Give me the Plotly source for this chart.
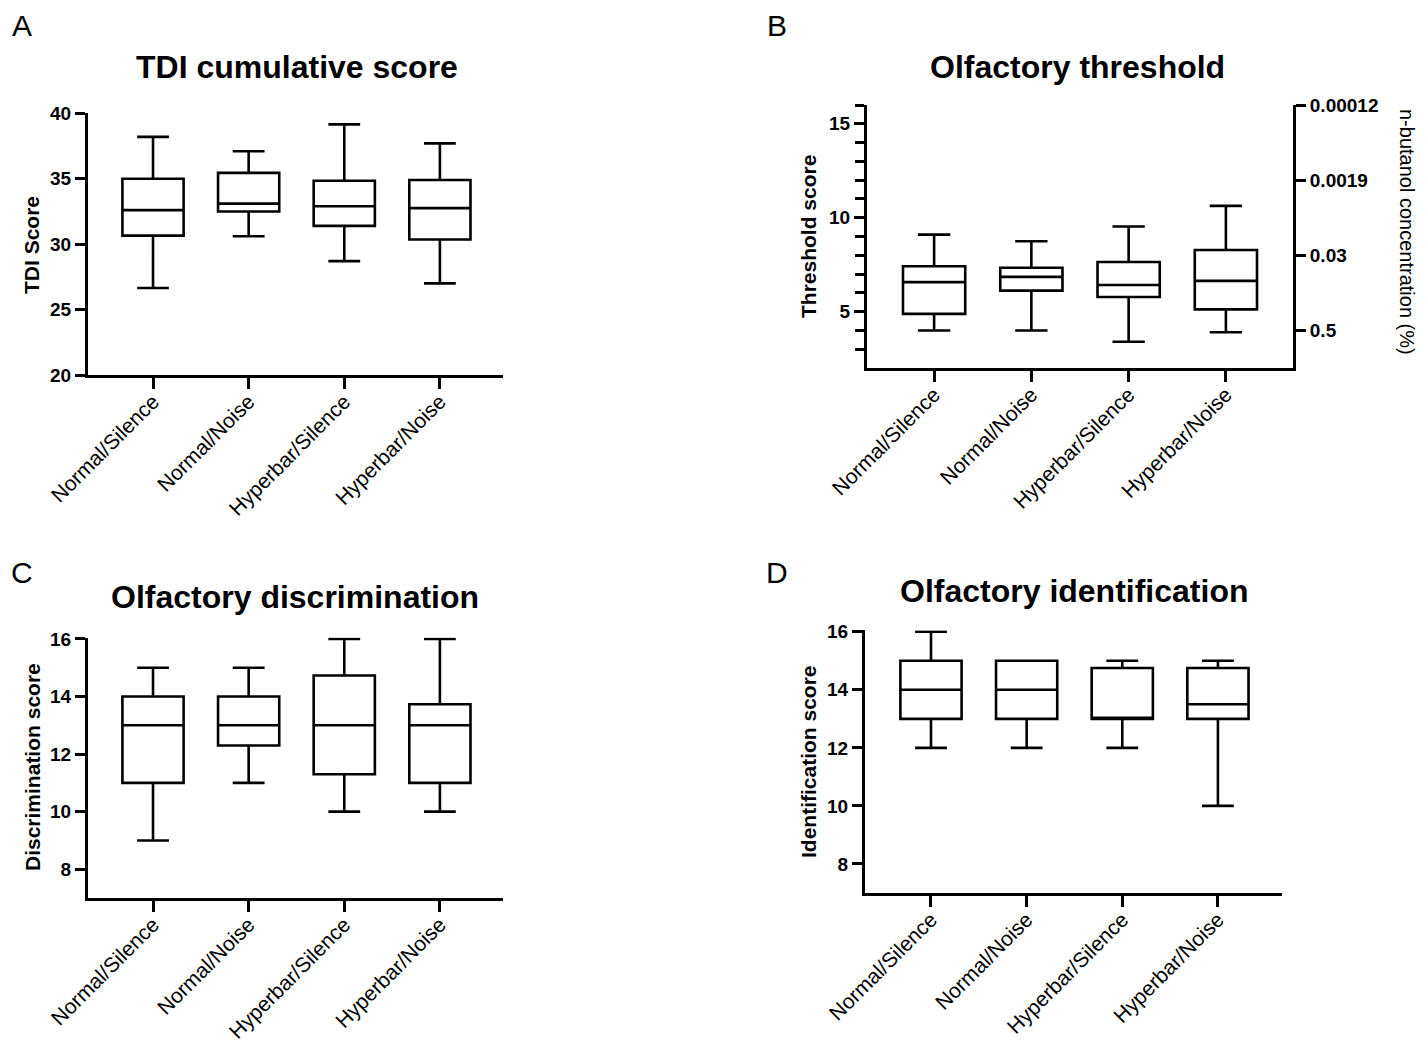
import plotly.graph_objects as go

# ---------------- data ----------------
categories = ["Normal/Silence", "Normal/Noise", "Hyperbar/Silence", "Hyperbar/Noise"]

# Panel A: TDI cumulative score
tdi_low = [26.65, 30.6, 28.7, 27.0]
tdi_q1 = [30.65, 32.5, 31.4, 30.35]
tdi_med = [32.6, 33.1, 32.9, 32.75]
tdi_q3 = [35.0, 35.45, 34.85, 34.9]
tdi_high = [38.2, 37.1, 39.15, 37.7]

# Panel B: Olfactory threshold
thr_low = [4.0, 4.0, 3.4, 3.9]
thr_q1 = [4.88, 6.12, 5.78, 5.12]
thr_med = [6.57, 6.85, 6.42, 6.64]
thr_q3 = [7.42, 7.34, 7.64, 8.28]
thr_high = [9.1, 8.75, 9.53, 10.63]
conc_tickvals = [4, 8, 12, 16]
conc_ticktext = ["0.5", "0.03", "0.0019", "0.00012"]

# Panel C: Olfactory discrimination
dis_low = [9, 11, 10, 10]
dis_q1 = [11, 12.3, 11.3, 11]
dis_med = [13, 13, 13, 13]
dis_q3 = [14, 14, 14.73, 13.73]
dis_high = [15, 15, 16, 16]

# Panel D: Olfactory identification
idn_low = [12, 12, 12, 10]
idn_q1 = [13, 13, 13, 13]
idn_med = [14, 14, 13, 13.5]
idn_q3 = [15, 15, 14.75, 14.75]
idn_high = [16, 15, 15, 15]

# ---------------- layout helpers ----------------
W, H = 1427, 1044
def fx(px):
    return px / W
def fy(py):
    return 1 - py / H

FONT = "Liberation Sans, Arial, sans-serif"
BOX_W = 0.64
WHISK = 0.52

fig = go.Figure()

def add_box(xa, ya, low, q1, med, q3, high):
    fig.add_trace(go.Box(
        x=categories, q1=q1, median=med, q3=q3,
        lowerfence=low, upperfence=high,
        orientation="v", boxpoints=False,
        fillcolor="white", line=dict(color="black", width=2.6),
        width=BOX_W, whiskerwidth=WHISK,
        xaxis=xa, yaxis=ya, showlegend=False, hoverinfo="skip",
    ))

add_box("x", "y", tdi_low, tdi_q1, tdi_med, tdi_q3, tdi_high)
add_box("x2", "y2", thr_low, thr_q1, thr_med, thr_q3, thr_high)
add_box("x3", "y3", dis_low, dis_q1, dis_med, dis_q3, dis_high)
add_box("x4", "y4", idn_low, idn_q1, idn_med, idn_q3, idn_high)

# invisible carrier so the secondary (concentration) axis of panel B is drawn
fig.add_trace(go.Scatter(
    x=categories, y=thr_med, xaxis="x2", yaxis="y5", mode="markers",
    marker=dict(opacity=0, size=1), showlegend=False, hoverinfo="skip",
))

def xaxis(domain, rng, anchor):
    return dict(
        domain=domain, range=rng, anchor=anchor, type="category",
        automargin=False,
        showline=True, linecolor="black", linewidth=3,
        ticks="outside", ticklen=11, tickwidth=3, tickcolor="black",
        tickangle=-45, showgrid=False, zeroline=False,
        ticklabelstandoff=-8,
        tickfont=dict(family=FONT, size=21, color="black"),
    )

def yaxis(domain, rng, anchor, **kw):
    d = dict(
        domain=domain, range=rng, anchor=anchor, automargin=False,
        showline=True, linecolor="black", linewidth=3,
        ticks="outside", ticklen=10, tickwidth=3, tickcolor="black",
        showgrid=False, zeroline=False,
        tickfont=dict(family=FONT, size=19, color="black", weight="bold"),
    )
    d.update(kw)
    return d

fig.update_layout(
    template="none",
    width=W, height=H, autosize=False,
    margin=dict(l=0, r=0, t=0, b=0, pad=0),
    paper_bgcolor="white", plot_bgcolor="white",
    showlegend=False,
    xaxis=xaxis([fx(88), fx(503)], [-0.68, 3.66], "y"),
    yaxis=yaxis([fy(375), fy(113.3)], [20, 40], "x", tickvals=[20, 25, 30, 35, 40]),
    xaxis2=xaxis([fx(867), fx(1293)], [-0.69, 3.69], "y2"),
    yaxis2=yaxis([fy(368), fy(105)], [2, 16], "x2", tickvals=[5, 10, 15],
                 minor=dict(tickvals=[3, 4, 6, 7, 8, 9, 11, 12, 13, 14, 16],
                            ticks="outside", ticklen=9, tickwidth=2.6, tickcolor="black")),
    yaxis5=yaxis([fy(368), fy(105)], [2, 16], "x2", overlaying="y2", side="right",
                 tickmode="array", tickvals=conc_tickvals, ticktext=conc_ticktext),
    xaxis3=xaxis([fx(88), fx(503)], [-0.68, 3.66], "y3"),
    yaxis3=yaxis([fy(898), fy(637.5)], [7, 16.05], "x3", tickvals=[8, 10, 12, 14, 16]),
    xaxis4=xaxis([fx(865), fx(1282)], [-0.69, 3.67], "y4"),
    yaxis4=yaxis([fy(893), fy(630.3)], [7, 16.05], "x4", tickvals=[8, 10, 12, 14, 16]),
)

annotations = []
def ann(text, px, py, size, bold=False, angle=0):
    annotations.append(dict(
        text=text, x=fx(px), y=fy(py), xref="paper", yref="paper",
        showarrow=False, xanchor="center", yanchor="middle", textangle=angle,
        font=dict(family=FONT, size=size, color="black", weight="bold" if bold else "normal"),
    ))

# panel letters
for letter, px, py in [("A", 22, 26), ("B", 777, 26), ("C", 22, 572), ("D", 777, 572)]:
    ann(letter, px, py, 30)

# titles
ann("TDI cumulative score", 297, 67, 32, bold=True)
ann("Olfactory threshold", 1077, 67, 32, bold=True)
ann("Olfactory discrimination", 295, 597, 32, bold=True)
ann("Olfactory identification", 1074, 591, 32, bold=True)

# y-axis titles
ann("TDI Score", 32, 245, 21, bold=True, angle=-90)
ann("Threshold score", 808, 237, 21, bold=True, angle=-90)
ann("Discrimination score", 32, 767, 21, bold=True, angle=-90)
ann("Identification score", 808, 762, 21, bold=True, angle=-90)
ann("n-butanol concentration (%)", 1407, 232, 20, angle=90)

fig.update_layout(annotations=annotations)

fig.write_html(
    "out.html",
    config={"displayModeBar": False},
    post_script="document.body.style.margin='0';document.body.style.overflow='hidden';",
)
